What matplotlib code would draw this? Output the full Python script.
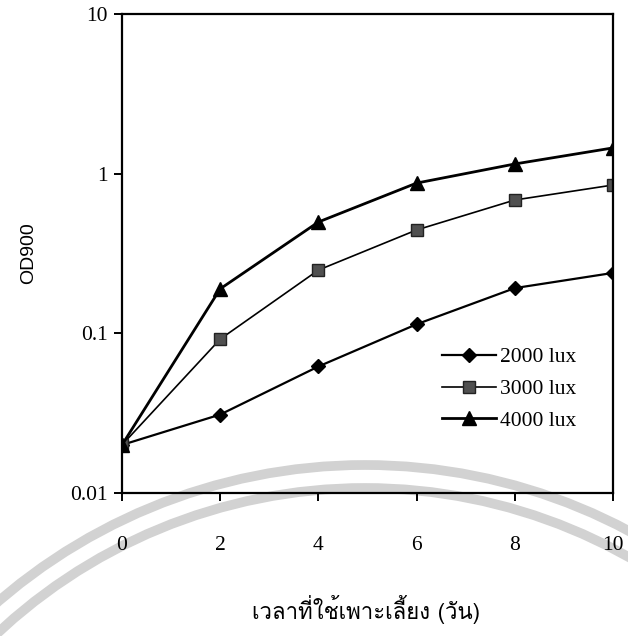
import matplotlib
matplotlib.use("Agg")
import matplotlib.pyplot as plt
from matplotlib import font_manager
from matplotlib.ft2font import FT2Font
from matplotlib.patches import Arc

# Culture time (days) and optical density at 900 nm
days = [0, 2, 4, 6, 8, 10]
od_2000 = [0.020, 0.031, 0.062, 0.114, 0.192, 0.239]
od_3000 = [0.020, 0.092, 0.249, 0.444, 0.684, 0.849]
od_4000 = [0.020, 0.190, 0.498, 0.873, 1.15, 1.45]
series_labels = ["2000 lux", "3000 lux", "4000 lux"]
y_ticks = [0.01, 0.1, 1, 10]
y_tick_labels = ["0.01", "0.1", "1", "10"]
x_label = "เวลาที่ใช้เพาะเลี้ยง (วัน)"
y_label = "OD900"


def find_thai_font():
    for entry in font_manager.fontManager.ttflist:
        try:
            if 0x0E40 in FT2Font(entry.fname).get_charmap():
                return entry.name
        except Exception:
            continue
    return None


thai = find_thai_font()
thai_family = [thai, "DejaVu Sans"] if thai else ["DejaVu Sans"]

serif = "Liberation Serif"
plt.rcParams["font.family"] = serif

W, H = 628, 636
fig = plt.figure(figsize=(W / 100, H / 100), dpi=100)

# faint seal arcs behind the plot
bg = fig.add_axes([0, 0, 1, 1], zorder=0)
bg.set_xlim(0, W)
bg.set_ylim(H, 0)
bg.axis("off")
for r, lw in [(561, 7), (538, 7)]:
    bg.add_patch(Arc((365, 1026), 2 * r, 2 * r, theta1=180, theta2=360,
                     color="#d2d2d2", lw=lw))

ax = fig.add_axes([122 / W, 1 - 493 / H, 491 / W, 479 / H], zorder=1)
ax.patch.set_alpha(0)

ax.plot(days, od_2000, color="black", lw=1.6, marker="D", ms=7,
        mfc="black", mec="black", label=series_labels[0])
ax.plot(days, od_3000, color="black", lw=1.2, marker="s", ms=9,
        mfc="#505050", mec="#222222", label=series_labels[1])
ax.plot(days, od_4000, color="black", lw=2.0, marker="^", ms=10,
        mfc="black", mec="black", label=series_labels[2])

ax.set_yscale("log")
ax.set_ylim(0.01, 10)
ax.set_xlim(0, 10)
ax.set_yticks(y_ticks)
ax.set_yticklabels(y_tick_labels)
ax.yaxis.set_minor_locator(matplotlib.ticker.NullLocator())
ax.set_xticks(days)
ax.set_xticklabels([str(d) for d in days])

for s in ax.spines.values():
    s.set_linewidth(1.6)
ax.tick_params(axis="both", direction="out", length=6, width=1.4,
               labelsize=15.5)
ax.tick_params(axis="x", pad=25)
ax.tick_params(axis="y", pad=4)

ax.set_ylabel(y_label, fontfamily="Liberation Sans", fontsize=14, labelpad=24)
fig.text(366 / W, 1 - 610 / H, x_label, family=thai_family, fontsize=16,
         ha="center", va="center")

leg = ax.legend(loc="upper left", bbox_to_anchor=(0.612, 0.345), frameon=False,
                prop={"family": serif, "size": 15.5},
                handlelength=2.5, labelspacing=0.55, handletextpad=0.2)

fig.savefig("out.png", dpi=100)
